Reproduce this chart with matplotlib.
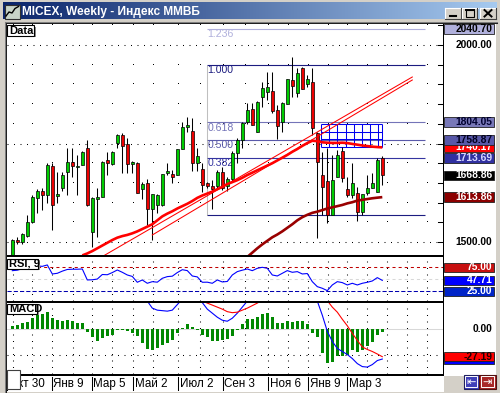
import numpy as np
import matplotlib
matplotlib.use("Agg")
import matplotlib.pyplot as plt
from matplotlib.patches import Rectangle
from matplotlib.colors import LinearSegmentedColormap
import matplotlib.transforms as mtrans

plt.rcParams['lines.scale_dashes'] = False
plt.rcParams['font.family'] = ['Liberation Sans', 'DejaVu Sans']

# ---------------- data ----------------
title = "MICEX, Weekly - Индекс ММВБ"

opens = [1462, 1504, 1501, 1515, 1551, 1611, 1629, 1619, 1694, 1617,
         1636, 1677, 1702, 1690, 1695, 1738, 1526, 1610, 1615, 1708,
         1697, 1752, 1772, 1750, 1698, 1700, 1634, 1649, 1583, 1594,
         1594, 1675, 1673, 1670, 1736, 1792, 1782, 1701, 1685, 1650,
         1642, 1641, 1677, 1642, 1659, 1725, 1759, 1805, 1837, 1780,
         1869, 1880, 1883, 1835, 1805, 1849, 1911, 1879, 1941, 1901,
         1905, 1776, 1670, 1655, 1568, 1666, 1731, 1634, 1619, 1624,
         1577, 1624, 1638, 1628, 1712]
highs = [1507, 1512, 1523, 1568, 1620, 1634, 1636, 1701, 1700, 1678,
         1678, 1738, 1738, 1720, 1731, 1759, 1615, 1636, 1706, 1729,
         1731, 1774, 1776, 1763, 1705, 1704, 1652, 1659, 1621, 1623,
         1673, 1701, 1683, 1736, 1805, 1816, 1814, 1738, 1700, 1652,
         1657, 1683, 1690, 1666, 1731, 1763, 1805, 1852, 1852, 1858,
         1907, 1932, 1932, 1848, 1856, 1913, 1970, 1941, 1945, 1924,
         1941, 1780, 1729, 1738, 1721, 1733, 1742, 1666, 1700, 1640,
         1622, 1670, 1674, 1712, 1719]
lows = [1460, 1495, 1494, 1513, 1549, 1573, 1580, 1600, 1530, 1598,
        1630, 1619, 1666, 1619, 1695, 1591, 1488, 1513, 1613, 1670,
        1695, 1738, 1674, 1674, 1676, 1625, 1610, 1543, 1505, 1573,
        1591, 1670, 1649, 1670, 1736, 1780, 1679, 1679, 1628, 1638,
        1585, 1636, 1632, 1630, 1655, 1701, 1738, 1800, 1797, 1780,
        1843, 1860, 1827, 1761, 1780, 1849, 1869, 1869, 1888, 1894,
        1772, 1509, 1568, 1547, 1568, 1666, 1653, 1615, 1611, 1553,
        1568, 1619, 1636, 1628, 1645]
closes = [1505, 1500, 1520, 1550, 1613, 1629, 1619, 1695, 1594, 1620,
          1670, 1702, 1694, 1693, 1728, 1594, 1611, 1613, 1704, 1700,
          1728, 1772, 1743, 1697, 1701, 1625, 1647, 1583, 1621, 1619,
          1673, 1678, 1666, 1736, 1793, 1795, 1701, 1718, 1645, 1641,
          1634, 1677, 1636, 1659, 1727, 1759, 1801, 1835, 1797, 1855,
          1890, 1893, 1833, 1794, 1852, 1913, 1896, 1930, 1888, 1913,
          1789, 1704, 1640, 1568, 1657, 1721, 1662, 1619, 1651, 1577,
          1621, 1636, 1649, 1708, 1668.86]

# fast moving average (bright red), starts at bar 14
ma_fast_start = 14
ma_fast = [1466, 1471, 1477, 1484, 1491, 1498, 1505, 1511, 1515, 1518,
           1522, 1527, 1533, 1539, 1545, 1555, 1565, 1572, 1578, 1585,
           1591, 1597, 1604, 1612, 1618, 1623, 1628, 1634, 1640, 1647,
           1652, 1657, 1663, 1670, 1676, 1682, 1688, 1694, 1700, 1707,
           1714, 1721, 1729, 1736, 1744, 1751, 1757, 1756, 1753, 1752,
           1751.5, 1751.5, 1752, 1751, 1749, 1747, 1745, 1743.5, 1742, 1741,
           1740.17]
# slow moving average (dark red), starts at bar 47
ma_slow_start = 47
ma_slow = [1462, 1473, 1484, 1494, 1503, 1512, 1519, 1527, 1536, 1545,
           1555, 1563, 1569, 1574, 1577, 1581, 1585, 1588, 1591, 1594,
           1598, 1601, 1605, 1607, 1609, 1611, 1612.5, 1613.86]

# trend lines (bar index, price)
trend_a_k = [18.2, 80.0]
trend_a_p = [1464.5, 1918.8]
trend_b_k = [28.0, 80.0]
trend_b_p = [1517.8, 1911.2]

# Fibonacci retracement
fib_ratios = [0.0, 0.382, 0.5, 0.618, 1.0, 1.236]
fib_prices = [1567.43, 1713.69, 1758.87, 1804.05, 1950.31, 2040.70]
fib_k_start, fib_k_end = 39.0, 82.6
fib_colors = ['#1c1c80', '#3434a0', '#5a5aaa', '#7474b8', '#1c1c80', '#b0b0dc']

# Gann grid box
gann_cols_k = [61.74, 63.34, 65.0, 66.68, 68.34, 69.94, 71.6, 73.2, 74.0]
gann_rows_p = [1799.5, 1780.0, 1760.7, 1741.9]

# RSI(9)
rsi = [68, 69, 72, 74, 76.4, 77.8, 77, 79.9, 61.1, 62.5,
       67, 70.5, 71, 71, 71.5, 48.6, 49, 50.5, 60, 59.5,
       64, 69.4, 64.6, 59, 56, 43.8, 48.6, 41.7, 45.1, 44,
       52.1, 55.6, 56.5, 64, 70, 68.1, 56.9, 55, 43.8, 44,
       41.7, 48.6, 44.5, 45.5, 59, 66, 69, 71.5, 68, 72.9,
       75, 72.9, 59, 56.9, 62.5, 68.1, 64.6, 66, 61.1, 62,
       45.1, 34.7, 31.3, 26.4, 38.2, 45.1, 43.1, 38.2, 41.7, 38.2,
       41.7, 43.8, 46.5, 53.5, 47.71]
rsi_levels = [75, 25]

# MACD
macd_hist = [3.3, 4.3, 6, 7.6, 10.9, 14.2, 15.2, 17.5, 10.9, 9.3,
             8.3, 9.3, 8.3, 6.6, 6.6, -2.3, -8, -11.3, -8.3, -6.6,
             -5.6, -0.7, -0.3, -1.5, -4, -6.6, -13.2, -19.5, -20.5, -18.2,
             -15.6, -13.9, -10.6, -4, 1.7, 5.3, 2.6, -0.5, -5.6, -7.9,
             -11.3, -11.3, -10.6, -9.9, -6.6, -0.7, 5.3, 10.2, 10.3, 12.6,
             14.9, 15.9, 11.9, 6, 6, 8.3, 7.6, 8.3, 8.3, 5.3,
             -3.3, -7.9, -23.8, -33.8, -32.1, -26.5, -26.5, -25.5, -20.5, -22.2,
             -20.5, -16.6, -12.3, -5.6, -2.3]
macd_line = [38, 39, 41, 43, 47, 52, 56, 62, 61, 61,
             62, 64, 65, 64.5, 65, 57, 50, 45, 46, 46.5,
             47, 51.5, 51.5, 49, 46, 42.5, 34, 28, 21, 19,
             18.5, 18, 19, 24.5, 30, 34, 32, 29.5, 26.5, 20,
             16, 12, 9, 8, 11, 16, 22, 28, 33, 38,
             43, 47, 45, 41, 42, 45, 45.5, 47, 47, 46,
             40, 28, 14, -2, -12, -19, -22, -25, -29, -34,
             -37, -37.5, -35, -31, -29.5]
macd_signal = [35, 36, 37, 38, 40, 42, 45, 48, 50, 52,
               53, 55, 57, 58, 59, 59, 58, 56, 54, 53,
               52, 52, 52, 51, 50, 49, 47, 44, 41, 37.5,
               34, 31.5, 29.5, 28.5, 28.5, 29, 29.5, 29, 28, 26,
               24, 22, 20, 17.5, 16.5, 17, 19, 21, 23.5, 26,
               29, 32, 34, 35, 36, 37, 38, 39, 40, 41,
               41, 37, 34, 28.5, 22, 17, 10, 3.5, -4, -11,
               -17.5, -20, -22, -24.5, -27.19]

# time axis
date_labels = ["Окт 30", "Янв 9", "Мар 5", "Май 2", "Июл 2", "Сен 3", "Ноя 6", "Янв 9", "Мар 3"]
date_label_k = [-1.0, 7.9, 15.9, 24.2, 33.2, 42.1, 51.2, 59.2, 67.0]
grid_month_k = [0.1, 3.9, 7.9, 12.1, 15.9, 19.9, 24.2, 28.2, 33.2, 37.5, 42.1,
                46.6, 51.2, 55.2, 59.2, 63.1, 67.0, 70.9, 74.9, 78.9, 82.9]
price_grid = list(range(1500, 2051, 50))
price_major = [1500, 1750, 2000]

# ---------------- layout ----------------
W, H = 500, 393
fig = plt.figure(figsize=(W / 100, H / 100), dpi=100)
fig.patch.set_facecolor("#d4d0c8")


def frac(x0, y0, x1, y1):
    return [x0 / W, 1 - y1 / H, (x1 - x0) / W, (y1 - y0) / H]


def clean(a, face="white"):
    a.set_facecolor(face)
    a.set_xticks([])
    a.set_yticks([])
    for s in a.spines.values():
        s.set_visible(False)


DOT = (0, (0.72, 3.96))

bg = fig.add_axes([0, 0, 1, 1], zorder=0)
tb = LinearSegmentedColormap.from_list("tb", ["#0a246a", "#a6caf0"])
bg.imshow(np.linspace(0, 1, 256)[None, :], cmap=tb, extent=(3, 497, 19.5, 3),
          aspect="auto", interpolation="bilinear")
bg.add_patch(Rectangle((5, 22.5), 491, 369, fc="white", ec="none"))
bg.plot([4.5, 497], [21.8, 21.8], color="#808080", lw=0.75)
bg.plot([5.5, 497], [22.8, 22.8], color="#202020", lw=0.75)
bg.plot([4.6, 4.6], [21.8, 391.5], color="#808080", lw=0.75)
bg.plot([5.6, 5.6], [22.8, 391.5], color="#202020", lw=0.75)
for y0 in (255, 301, 374):
    bg.add_patch(Rectangle((6, y0), 437, 2, fc="black", ec="none"))
bg.add_patch(Rectangle((442.5, 23), 1, 353, fc="black", ec="none"))
bg.add_patch(Rectangle((443.5, 376), 52.5, 15.5, fc="#d4d0c8", ec="none"))
bg.set_xlim(0, W)
bg.set_ylim(H, 0)
bg.axis("off")

XL = ((6.5 - 12.3) / 5, (442.5 - 12.3) / 5)

ax = fig.add_axes(frac(6.5, 23.5, 442.5, 255), zorder=2)
clean(ax)
ax.set_xlim(*XL)
ax.set_ylim(2000 - (255 - 45) / 0.394, 2000 - (23.5 - 45) / 0.394)

r_ax = fig.add_axes(frac(6.5, 257, 442.5, 301), zorder=2, sharex=ax)
clean(r_ax)
r_ax.set_ylim(75 - (301 - 267.3) / 0.48, 75 - (257 - 267.3) / 0.48)

m_ax = fig.add_axes(frac(6.5, 303, 442.5, 374), zorder=2, sharex=ax)
clean(m_ax)
m_ax.set_ylim((329.3 - 374) / 1.008, (329.3 - 303) / 1.008)

d_ax = fig.add_axes(frac(6.5, 376, 442.5, 391), zorder=2, sharex=ax)
clean(d_ax)

rm = fig.add_axes(frac(443.5, 23.5, 496, 255), zorder=2, sharey=ax)
rr = fig.add_axes(frac(443.5, 257, 496, 301), zorder=2, sharey=r_ax)
rmc = fig.add_axes(frac(443.5, 303, 496, 374), zorder=2, sharey=m_ax)
for a in (rm, rr, rmc):
    clean(a)
    a.set_xlim(0, 1)

# ---------------- main panel ----------------
x = np.arange(len(closes))
o = np.array(opens, float)
h = np.array(highs, float)
l = np.array(lows, float)
c = np.array(closes, float)

for lv in price_grid:
    if lv in price_major:
        ax.axhline(lv, color="black", lw=0.75, ls=DOT, zorder=1)
    else:
        ax.plot(grid_month_k, [lv] * len(grid_month_k), ls="none", marker=",",
                color="black", zorder=1)
    ax.plot([85.1, 86.1], [lv, lv], color="black", lw=0.75, zorder=1)

ax.hlines(fib_prices, fib_k_start, fib_k_end, colors=fib_colors, lw=0.8, zorder=2)
ax.vlines(fib_k_start, fib_prices[0], fib_prices[4], color="#808080", lw=0.75,
          ls=(0, (0.72, 0.72)), zorder=2)
for rt, pr, col in zip(fib_ratios, fib_prices, fib_colors):
    if rt == 0.0:
        continue
    ax.annotate(f"{rt:.3f}", (fib_k_start, pr), xytext=(0.2, -0.3),
                textcoords="offset points", va="top", ha="left",
                fontsize=7.6, color=col, zorder=2)

ax.vlines(gann_cols_k, gann_rows_p[-1], gann_rows_p[0], color="#0000ee", lw=0.75, zorder=2.5)
ax.hlines(gann_rows_p, gann_cols_k[0], gann_cols_k[-1], color="#0000ee", lw=0.75, zorder=2.5)

ax.vlines(x, l, h, color="black", lw=0.75, zorder=3)
up = c >= o
lo = np.minimum(o, c)
bh = np.maximum(np.abs(c - o), 4.0)
ax.bar(x[up], bh[up], bottom=lo[up], width=0.62, color="#00cc00",
       edgecolor="black", lw=0.5, zorder=4)
ax.bar(x[~up], bh[~up], bottom=lo[~up], width=0.62, color="#ee0000",
       edgecolor="black", lw=0.5, zorder=4)

ax.plot(trend_a_k, trend_a_p, color="#ff0000", lw=0.75, zorder=5)
ax.plot(trend_b_k, trend_b_p, color="#ff0000", lw=0.75, zorder=5)
ax.plot(np.arange(ma_fast_start, ma_fast_start + len(ma_fast)), ma_fast,
        color="#ff0000", lw=1.9, zorder=5, solid_capstyle="butt")
ax.plot(np.arange(ma_slow_start, ma_slow_start + len(ma_slow)), ma_slow,
        color="#990000", lw=1.9, zorder=5, solid_capstyle="butt")

# ---------------- RSI ----------------
for mk in grid_month_k:
    r_ax.axvline(mk, color="black", lw=0.75, ls=DOT, zorder=1)
r_ax.axhline(50, color="#d8d8d8", lw=0.75, ls=(0, (2.2, 2.2)), zorder=1)
r_ax.axhline(rsi_levels[0], color="#c00000", lw=0.75, ls=(0, (2.2, 2.2)), zorder=2)
r_ax.axhline(rsi_levels[1], color="#0000b0", lw=0.75, ls=(0, (3.0, 1.5)), zorder=2)
r_ax.plot(x, rsi, color="#0000ff", lw=0.8, zorder=3)

# ---------------- MACD ----------------
for mk in grid_month_k:
    m_ax.axvline(mk, color="black", lw=0.75, ls=DOT, zorder=1)
m_ax.axhline(0, color="#d8d8d8", lw=0.75, zorder=1)
m_ax.axhline(-25, color="black", lw=0.75, ls=DOT, zorder=1)
m_ax.bar(x, macd_hist, width=0.62, color="#008800", lw=0, zorder=2)
m_ax.plot(x, macd_line, color="#0000ff", lw=0.8, zorder=3)
m_ax.plot(x, macd_signal, color="#ff0000", lw=0.8, zorder=3)

# ---------------- dates ----------------
dtr = mtrans.blended_transform_factory(d_ax.transData, d_ax.transAxes)
for lab, k in zip(date_labels, date_label_k):
    d_ax.plot([k, k], [0.05, 0.95], color="black", lw=0.75, transform=dtr)
    d_ax.text(k + 0.3, 0.47, lab, transform=dtr, ha="left", va="center",
              fontsize=8.4, color="black")

# ---------------- right labels ----------------
zc = [10]


def box(a, val, hh, fc, tc, txt=None, show_text=True):
    tr = mtrans.blended_transform_factory(a.transAxes, a.transData)
    zc[0] += 2
    if fc is not None:
        a.add_patch(Rectangle((0.0, val - hh / 2), 0.971, hh, transform=tr, fc=fc,
                              ec="#202020", lw=0.6, zorder=zc[0], clip_on=False))
    if show_text:
        a.text(0.933, val, txt if txt is not None else f"{val:.2f}", transform=tr,
               ha="right", va="center", fontsize=7.4, fontweight="bold", color=tc,
               zorder=zc[0] + 1, clip_on=False)


HM = 9.5 / 0.394
box(rm, fib_prices[5], HM, "#b0b0dc", "black")
box(rm, 2000, HM, None, "black", "2000.00")
box(rm, 1500, HM, None, "black", "1500.00")
box(rm, fib_prices[3], HM, "#7878b8", "#000030")
box(rm, ma_fast[-1], HM, "#ff0000", "white")
box(rm, fib_prices[2], HM, "#5858a8", "#000020")
box(rm, fib_prices[1], HM, "#3030a0", "#d8d8ff")
box(rm, closes[-1], HM, "black", "white")
box(rm, ma_slow[-1], HM, "#8c0000", "white")

HR = 9.5 / 0.48
box(rr, rsi_levels[0], HR, "#c81010", "white")
box(rr, rsi[-1], HR, "#0000ff", "white")
box(rr, rsi_levels[1], HR, "#0024c8", "white")

HMC = 9.5 / 1.008
box(rmc, 0.0, HMC, None, "black", "0.00")
box(rmc, macd_line[-1], HMC, "#0000ff", "white", show_text=False)
box(rmc, macd_signal[-1], HMC, "#ff0000", "#200000")

# ---------------- foreground chrome ----------------
fg = fig.add_axes([0, 0, 1, 1], zorder=20)
fg.set_xlim(0, W)
fg.set_ylim(H, 0)
fg.axis("off")


def tag(x0, y0, w, hh, text):
    fg.add_patch(Rectangle((x0 + 1.5, y0 + 1.5), w, hh, fc="#909090", ec="none"))
    fg.add_patch(Rectangle((x0, y0), w, hh, fc="white", ec="black", lw=0.8))
    fg.text(x0 + 1.8, y0 + hh / 2 + 0.4, text, fontsize=8, fontweight="bold",
            va="center", ha="left", color="black")


tag(7, 25, 27, 10.5, "Data")
tag(7, 258.5, 31, 10, "RSI, 9")
tag(7, 303.5, 30, 10, "MACD")

# bottom-left square
fg.add_patch(Rectangle((7, 369.5), 12.5, 19, fc="white", ec="#404040", lw=0.8))

# title bar
fg.add_patch(Rectangle((4.5, 4.5), 15, 14, fc="#c8d4c8", ec="#303030", lw=0.8))
fg.plot([6, 9, 12, 15, 18.5], [16, 12, 13, 8.5, 6.5], color="black", lw=1.0)
fg.text(22, 11.6, title, fontsize=8.6, fontweight="bold", color="white",
        va="center", ha="left")
for bx in (445, 461.5, 480):
    fg.add_patch(Rectangle((bx, 7.5), 16, 11.5, fc="#d4d0c8", ec="none"))
    fg.plot([bx, bx + 16], [7.8, 7.8], color="white", lw=0.8)
    fg.plot([bx + 0.3, bx + 0.3], [7.5, 19], color="white", lw=0.8)
    fg.plot([bx, bx + 16], [18.7, 18.7], color="#404040", lw=0.8)
    fg.plot([bx + 15.7, bx + 15.7], [7.5, 19], color="#404040", lw=0.8)
fg.plot([449.5, 455.5], [15.8, 15.8], color="black", lw=1.5)
fg.add_patch(Rectangle((465.5, 9.8), 8, 6.8, fc="none", ec="black", lw=0.8))
fg.plot([465.5, 473.5], [10.3, 10.3], color="black", lw=1.4)
fg.plot([484.5, 491.5], [10, 16.5], color="black", lw=1.4)
fg.plot([484.5, 491.5], [16.5, 10], color="black", lw=1.4)

# bottom-right navigation buttons
fg.add_patch(Rectangle((463.5, 374.5), 15, 14, fc="#4040b8", ec="#202060", lw=0.8))
fg.add_patch(Rectangle((465, 376), 12, 11, fc="none", ec="white", lw=0.7))
fg.text(471, 381.8, "\u21e4", fontsize=8, color="white", ha="center", va="center",
        family="DejaVu Sans")
fg.add_patch(Rectangle((479, 374.5), 16.5, 14, fc="#a82828", ec="#501010", lw=0.8))
fg.add_patch(Rectangle((480.5, 376), 13.5, 11, fc="none", ec="white", lw=0.7))
fg.text(487.2, 381.8, "\u21e5", fontsize=8, color="white", ha="center", va="center",
        family="DejaVu Sans")

fig.savefig("out.png", dpi=100, facecolor=fig.get_facecolor())
